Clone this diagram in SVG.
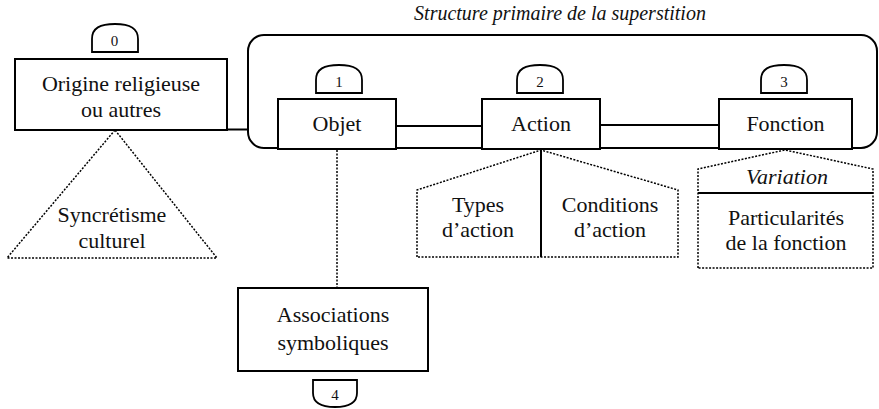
<svg xmlns="http://www.w3.org/2000/svg" width="879" height="409" viewBox="0 0 879 409">
<defs>
<path id="tabUp" d="M0,28V15C0,4 8,0 23,0C38,0 46,4 46,15V28Z" fill="#fff" stroke="#000" stroke-width="1.8"/>
</defs>
<rect width="879" height="409" fill="#fff"/>
<g id="connectors" fill="none" stroke="#000">
<path stroke-width="2" d="M227,129.5H248"/>
<path stroke-width="2" d="M396,126H482"/>
<path stroke-width="2" d="M600,125H719"/>
<path stroke-width="1.5" stroke-dasharray="2 1.5" d="M337,150V288"/>
<path stroke-width="1.5" stroke-dasharray="2 1.5" d="M115,130L7,258H217Z"/>
</g>
<g id="frame">
<rect x="248" y="35" width="629" height="113" rx="16" ry="16" fill="none" stroke="#000" stroke-width="2"/>
<text font-family="Times New Roman, Liberation Serif, serif" font-style="italic" font-size="20" fill="#111" text-anchor="middle" x="560" y="20">Structure primaire de la superstition</text>
</g>
<g id="node0">
<rect x="15" y="59" width="212" height="71" fill="#fff" stroke="#000" stroke-width="2"/>
<use href="#tabUp" x="92" y="24"/>
<text font-family="Times New Roman, Liberation Serif, serif" font-size="15" fill="#111" text-anchor="middle" x="114.5" y="46">0</text>
<text font-family="Times New Roman, Liberation Serif, serif" font-size="22" fill="#111" text-anchor="middle" x="121" y="91">Origine religieuse</text>
<text font-family="Times New Roman, Liberation Serif, serif" font-size="22" fill="#111" text-anchor="middle" x="121" y="117">ou autres</text>
</g>
<g id="node-syncretisme">
<text font-family="Times New Roman, Liberation Serif, serif" font-size="22" fill="#111" text-anchor="middle" x="112" y="222">Syncrétisme</text>
<text font-family="Times New Roman, Liberation Serif, serif" font-size="22" fill="#111" text-anchor="middle" x="112" y="248">culturel</text>
</g>
<g id="node1">
<rect x="278" y="99" width="118" height="50" fill="#fff" stroke="#000" stroke-width="2"/>
<use href="#tabUp" x="316" y="65"/>
<text font-family="Times New Roman, Liberation Serif, serif" font-size="15" fill="#111" text-anchor="middle" x="339" y="87">1</text>
<text font-family="Times New Roman, Liberation Serif, serif" font-size="22" fill="#111" text-anchor="middle" x="337" y="131">Objet</text>
</g>
<g id="node2">
<rect x="482" y="99" width="118" height="50" fill="#fff" stroke="#000" stroke-width="2"/>
<use href="#tabUp" x="517" y="65"/>
<text font-family="Times New Roman, Liberation Serif, serif" font-size="15" fill="#111" text-anchor="middle" x="540" y="87">2</text>
<text font-family="Times New Roman, Liberation Serif, serif" font-size="22" fill="#111" text-anchor="middle" x="541" y="131">Action</text>
</g>
<g id="node3">
<rect x="719" y="99" width="133" height="50" fill="#fff" stroke="#000" stroke-width="2"/>
<use href="#tabUp" x="761" y="65"/>
<text font-family="Times New Roman, Liberation Serif, serif" font-size="15" fill="#111" text-anchor="middle" x="784" y="87">3</text>
<text font-family="Times New Roman, Liberation Serif, serif" font-size="22" fill="#111" text-anchor="middle" x="785.5" y="131">Fonction</text>
</g>
<g id="node-action-detail">
<path d="M417,257V190L541,150L678,190V257Z" fill="none" stroke="#000" stroke-width="1.5" stroke-dasharray="2 1.5"/>
<path d="M541,149V257" fill="none" stroke="#000" stroke-width="2"/>
<text font-family="Times New Roman, Liberation Serif, serif" font-size="22" fill="#111" text-anchor="middle" x="478" y="212">Types</text>
<text font-family="Times New Roman, Liberation Serif, serif" font-size="22" fill="#111" text-anchor="middle" x="478" y="237">d’action</text>
<text font-family="Times New Roman, Liberation Serif, serif" font-size="22" fill="#111" text-anchor="middle" x="610" y="212">Conditions</text>
<text font-family="Times New Roman, Liberation Serif, serif" font-size="22" fill="#111" text-anchor="middle" x="610" y="237">d’action</text>
</g>
<g id="node-fonction-detail">
<path d="M698,268V169L785,150L873,169V268Z" fill="none" stroke="#000" stroke-width="1.5" stroke-dasharray="2 1.5"/>
<path d="M698,193H873" fill="none" stroke="#000" stroke-width="2"/>
<text font-family="Times New Roman, Liberation Serif, serif" font-style="italic" font-size="22" fill="#111" text-anchor="middle" x="787" y="184">Variation</text>
<text font-family="Times New Roman, Liberation Serif, serif" font-size="22" fill="#111" text-anchor="middle" x="786" y="225">Particularités</text>
<text font-family="Times New Roman, Liberation Serif, serif" font-size="22" fill="#111" text-anchor="middle" x="786" y="250">de la fonction</text>
</g>
<g id="node4">
<rect x="238" y="288" width="190" height="83" fill="#fff" stroke="#000" stroke-width="2"/>
<path d="M313,380V393C313,403 321,407 335,407C349,407 357,403 357,393V380Z" fill="#fff" stroke="#000" stroke-width="1.8"/>
<text font-family="Times New Roman, Liberation Serif, serif" font-size="15" fill="#111" text-anchor="middle" x="335" y="400">4</text>
<text font-family="Times New Roman, Liberation Serif, serif" font-size="22" fill="#111" text-anchor="middle" x="333" y="322">Associations</text>
<text font-family="Times New Roman, Liberation Serif, serif" font-size="22" fill="#111" text-anchor="middle" x="333" y="350">symboliques</text>
</g>
</svg>
